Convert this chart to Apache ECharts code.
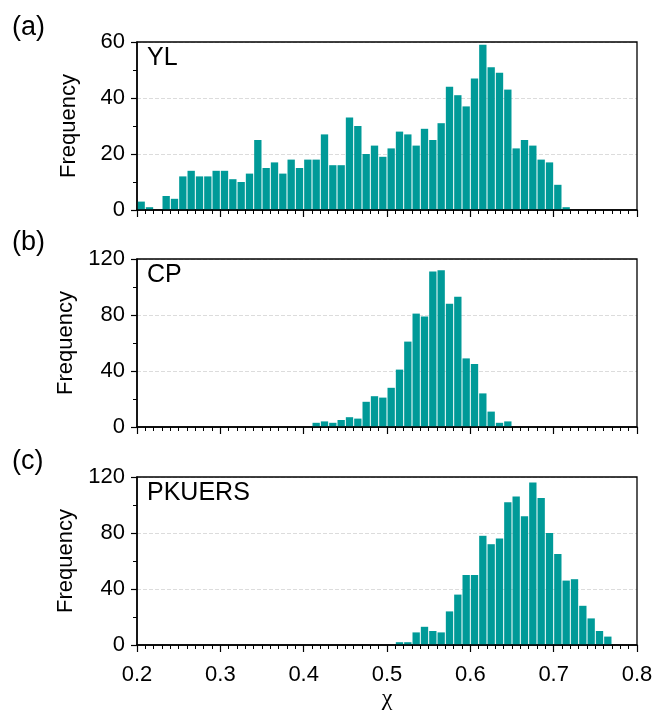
<!DOCTYPE html>
<html>
<head>
<meta charset="utf-8">
<script src="https://cdn.jsdelivr.net/npm/echarts@6/dist/echarts.min.js"></script>
<style>
  html, body { margin: 0; padding: 0; background: #fff; }
  #main { width: 656px; height: 710px; }
</style>
</head>
<body>
<div id="main"></div>
<script>
// bins of width 0.01, from 0.20 to 0.79 (left edges)
var bins = [];
for (var i = 0; i < 60; i++) bins.push((0.2 + i * 0.01).toFixed(2));

var xTicks = [0.2, 0.3, 0.4, 0.5, 0.6, 0.7, 0.8];

var ylFreq = [
    3, 1, 0, 5, 4, 12, 14, 12, 12, 14,
    14, 11, 10, 13, 25, 15, 17, 13, 18, 15,
    18, 18, 27, 16, 16, 33, 30, 20, 23, 19,
    22, 28, 27, 23, 29, 25, 31, 44, 41, 37,
    47, 59, 51, 49, 43, 22, 25, 23, 18, 17,
    9, 1, 0, 0, 0, 0, 0, 0, 0, 0
];
var cpFreq = [
    0, 0, 0, 0, 0, 0, 0, 0, 0, 0,
    0, 0, 0, 0, 0, 0, 0, 0, 0, 0,
    0, 3, 4, 3, 5, 7, 6, 18, 22, 21,
    28, 41, 61, 81, 79, 111, 112, 88, 93, 49,
    45, 24, 11, 3, 4, 0, 0, 0, 0, 0,
    0, 0, 0, 0, 0, 0, 0, 0, 0, 0
];
var pkuFreq = [
    0, 0, 0, 0, 0, 0, 0, 0, 0, 0,
    0, 0, 0, 0, 0, 0, 0, 0, 0, 0,
    0, 0, 0, 0, 0, 0, 0, 0, 0, 0,
    0, 2, 2, 9, 13, 10, 9, 24, 36, 50,
    50, 78, 72, 76, 102, 106, 92, 116, 105, 80,
    65, 46, 47, 28, 19, 10, 6, 0, 0, 0
];

var panels = ['(a)', '(b)', '(c)'];
var names = ['YL', 'CP', 'PKUERS'];
var yMax = [60, 120, 120];
var yStep = [20, 40, 40];

const chart = echarts.init(document.getElementById('main'), null, {
    width: 656,
    height: 710
});

var font = 'Liberation Sans, Arial, sans-serif';
var tops = [42, 259, 477];
var data = [ylFreq, cpFreq, pkuFreq];

var grid = [], xAxis = [], yAxis = [], series = [], title = [];

tops.forEach(function (top, k) {
    grid.push({
        left: 137,
        width: 500,
        top: top,
        height: 168,
        outerBoundsMode: 'none',
        show: true,
        z: 5,
        borderColor: '#000',
        borderWidth: 1.3
    });
    // hidden category axis that carries the bars
    xAxis.push({
        type: 'category',
        gridIndex: k,
        data: bins,
        show: false,
        position: 'top'
    });
    // visible value axis for ticks
    xAxis.push({
        type: 'value',
        gridIndex: k,
        min: xTicks[0],
        max: xTicks[xTicks.length - 1],
        interval: 0.1,
        position: 'bottom',
        axisLine: { onZero: false, lineStyle: { color: '#000', width: 1.5 } },
        axisTick: { length: 7, lineStyle: { color: '#000', width: 1.2 } },
        minorTick: { show: true, splitNumber: 10, length: 4, lineStyle: { color: '#000', width: 1 } },
        splitLine: { show: false },
        axisLabel: {
            show: k === 2,
            margin: 19,
            color: '#000',
            fontSize: 22,
            fontFamily: font,
            formatter: function (v) { return v.toFixed(1); }
        },
        name: k === 2 ? 'χ' : '',
        nameLocation: 'middle',
        nameGap: 42,
        nameTextStyle: { color: '#000', fontSize: 24, fontFamily: 'Liberation Serif, serif' }
    });
    yAxis.push({
        type: 'value',
        gridIndex: k,
        min: 0,
        max: yMax[k],
        interval: yStep[k],
        axisLine: { show: true, lineStyle: { color: '#000', width: 1.5 } },
        axisTick: { show: true, length: 6, lineStyle: { color: '#000', width: 1.2 } },
        minorTick: { show: true, splitNumber: 2, length: 4, lineStyle: { color: '#000', width: 1 } },
        splitLine: { show: true, lineStyle: { color: '#dcdcdc', type: 'dashed', width: 1 } },
        axisLabel: { margin: 12, color: '#000', fontSize: 22, fontFamily: font },
        name: 'Frequency',
        nameLocation: 'middle',
        nameGap: 57,
        nameTextStyle: { color: '#000', fontSize: 22, fontFamily: font }
    });
    series.push({
        type: 'bar',
        xAxisIndex: k * 2,
        yAxisIndex: k,
        data: data[k],
        barCategoryGap: '12%',
        itemStyle: { color: '#009a98' },
        silent: true
    });
    title.push({
        text: panels[k],
        left: 12,
        top: [14, 229, 448][k],
        padding: 0,
        textStyle: { color: '#000', fontSize: 27, fontWeight: 'normal', fontFamily: font }
    });
    title.push({
        text: names[k],
        left: 147,
        top: top + 4,
        padding: 0,
        textStyle: { color: '#000', fontSize: 25, fontWeight: 'normal', fontFamily: font }
    });
});

var option = {
    animation: false,
    backgroundColor: '#fff',
    title: title,
    grid: grid,
    xAxis: xAxis,
    yAxis: yAxis,
    series: series
};

chart.setOption(option);
</script>
</body>
</html>
